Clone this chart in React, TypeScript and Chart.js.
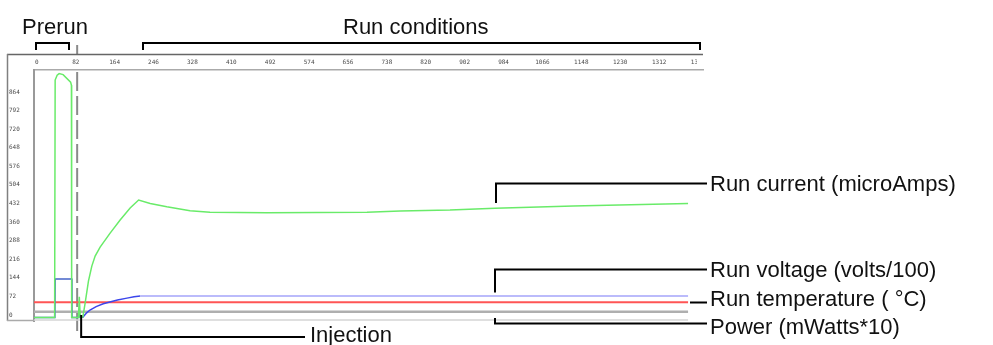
import React, { useEffect, useRef } from 'react';
import { Chart, registerables } from 'chart.js';

Chart.register(...registerables);

// ---------- data ----------
const xTickValues = [0, 82, 164, 246, 328, 410, 492, 574, 656, 738, 820, 902, 984, 1066, 1148, 1230, 1312, 1394];
const yTickValues = [0, 72, 144, 216, 288, 360, 432, 504, 576, 648, 720, 792, 864];

const currentTime = [-6, 37.5, 38.6, 42.8, 47, 55.4, 71.2, 72.9, 73.4, 87.7, 89.5, 91.5, 97, 101.8, 108.8, 115.9, 122.9, 133.4, 154.5, 175.6, 196.7, 214.6, 239, 274, 323, 365, 485, 696, 766, 871, 966, 1131, 1373];
const currentValue = [2, 2, 922, 941, 947, 943, 914, 902, 2, 2, 82, 2, 4, 58, 143, 201, 240, 275, 329, 380, 426, 457, 444, 431, 416, 410, 408, 410, 415, 418, 425, 434, 444];

const voltageTime = [-6, 38, 38.6, 73.6, 74, 88, 89.5, 91, 97, 105, 112, 125, 140, 154, 170, 190, 205, 218, 1373];
const voltageValue = [2, 2, 151, 151, 2, 2, 20, 4, 3, 20, 31, 44, 55, 62, 70, 77, 82, 85, 85];

const temperatureTime = [-6, 1373];
const temperatureValue = [61, 61];

const baselineTime = [-6, 1373];
const baselineValue = [24, 24];

const powerTime = [-6, 1373];
const powerValue = [-8, -8];

const injectionTime = 85;

const topLabels = ['Prerun', 'Run conditions'];
const sideLabels = ['Run current (microAmps)', 'Run voltage (volts/100)', 'Run temperature ( °C)', 'Power (mWatts*10)'];
const injectionLabel = 'Injection';

// ---------- helpers ----------
const toPoints = (xs: number[], ys: number[]) => xs.map((x, i) => ({ x, y: ys[i] }));

const TEXT_FONT = '22px "Liberation Sans", Arial, Helvetica, sans-serif';
const TICK_FONT = { family: '"DejaVu Sans Mono", monospace', size: 6 };

const decorPlugin = {
  id: 'decor',
  beforeDatasetsDraw(chart: any) {
    const ctx = chart.ctx;
    const x = chart.scales.x.getPixelForValue(injectionTime);
    ctx.save();
    ctx.strokeStyle = '#8a8a8a';
    ctx.lineWidth = 2;
    ctx.setLineDash([19, 5]);
    ctx.beginPath();
    ctx.moveTo(x, 72);
    ctx.lineTo(x, 331);
    ctx.stroke();
    ctx.setLineDash([]);
    ctx.beginPath();
    ctx.moveTo(x, 45);
    ctx.lineTo(x, 54);
    ctx.stroke();
    ctx.restore();
  },
  afterDraw(chart: any) {
    const ctx = chart.ctx;
    const area = chart.chartArea;
    ctx.save();
    // the header row is cut at the right edge of the frame
    ctx.fillStyle = '#ffffff';
    ctx.fillRect(697, 55.5, 40, area.top - 57);

    // outer frame
    ctx.strokeStyle = '#666';
    ctx.lineWidth = 1.5;
    ctx.beginPath();
    ctx.moveTo(7, 54.5);
    ctx.lineTo(area.right, 54.5);
    ctx.stroke();
    ctx.strokeStyle = '#808080';
    ctx.beginPath();
    ctx.moveTo(7.5, 54);
    ctx.lineTo(7.5, 321);
    ctx.stroke();
    ctx.strokeStyle = '#aaa';
    ctx.beginPath();
    ctx.moveTo(7, 320.5);
    ctx.lineTo(area.left, 320.5);
    ctx.stroke();

    // brackets
    ctx.strokeStyle = '#000';
    ctx.lineWidth = 2;
    ctx.beginPath();
    ctx.moveTo(36, 50);
    ctx.lineTo(36, 43);
    ctx.lineTo(69, 43);
    ctx.lineTo(69, 50);
    ctx.stroke();
    ctx.beginPath();
    ctx.moveTo(143, 50);
    ctx.lineTo(143, 43);
    ctx.lineTo(700, 43);
    ctx.lineTo(700, 50);
    ctx.stroke();

    // leaders on the right
    ctx.beginPath();
    ctx.moveTo(496, 203);
    ctx.lineTo(496, 183.5);
    ctx.lineTo(707, 183.5);
    ctx.stroke();
    ctx.beginPath();
    ctx.moveTo(495, 292.5);
    ctx.lineTo(495, 269.5);
    ctx.lineTo(707, 269.5);
    ctx.stroke();
    ctx.beginPath();
    ctx.moveTo(690, 302.5);
    ctx.lineTo(707, 302.5);
    ctx.stroke();
    ctx.beginPath();
    ctx.moveTo(495, 318);
    ctx.lineTo(495, 323.5);
    ctx.lineTo(707, 323.5);
    ctx.stroke();

    // injection leader
    const ix = chart.scales.x.getPixelForValue(injectionTime) + 4;
    ctx.beginPath();
    ctx.moveTo(ix, 315);
    ctx.lineTo(ix, 337);
    ctx.lineTo(305, 337);
    ctx.stroke();

    // texts
    ctx.fillStyle = '#111';
    ctx.font = TEXT_FONT;
    ctx.textAlign = 'left';
    ctx.textBaseline = 'alphabetic';
    ctx.fillText(topLabels[0], 22, 34);
    ctx.fillText(topLabels[1], 343, 34);
    ctx.fillText(sideLabels[0], 710, 191);
    ctx.fillText(sideLabels[1], 710, 277);
    ctx.fillText(sideLabels[2], 710, 306);
    ctx.fillText(sideLabels[3], 710, 334);
    ctx.fillText(injectionLabel, 310, 341.5);
    ctx.restore();
  },
};

export default function App() {
  const canvasRef = useRef<HTMLCanvasElement | null>(null);

  useEffect(() => {
    const canvas = canvasRef.current;
    if (!canvas) return;
    const chart = new Chart(canvas, {
      type: 'line',
      data: {
        datasets: [
          {
            label: 'Run current (microAmps)',
            data: toPoints(currentTime, currentValue),
            borderColor: 'rgb(105,235,105)',
            borderWidth: 1.5,
          },
          {
            label: 'Run voltage (volts/100)',
            data: toPoints(voltageTime, voltageValue),
            borderColor: 'rgb(165,165,250)',
            borderWidth: 1.5,
            segment: {
              borderColor: (c: any) =>
                c.p0.parsed.x < 80
                  ? 'rgb(70,100,200)'
                  : c.p1.parsed.y - c.p0.parsed.y > 0.5 || c.p1.parsed.y < c.p0.parsed.y
                  ? 'rgb(60,70,235)'
                  : 'rgb(165,165,250)',
            },
          },
          {
            label: 'Run temperature (°C)',
            data: toPoints(temperatureTime, temperatureValue),
            borderColor: 'rgb(255,85,85)',
            borderWidth: 2,
          },
          {
            label: 'Baseline',
            data: toPoints(baselineTime, baselineValue),
            borderColor: 'rgb(175,175,175)',
            borderWidth: 2.5,
          },
          {
            label: 'Power (mWatts*10)',
            data: toPoints(powerTime, powerValue),
            borderColor: 'rgb(212,212,212)',
            borderWidth: 1.5,
          },
        ],
      },
      options: {
        animation: false,
        responsive: false,
        devicePixelRatio: 1,
        elements: { point: { radius: 0 }, line: { tension: 0 } },
        layout: { padding: { left: 9, top: 54, right: 290, bottom: 24 } },
        plugins: { legend: { display: false }, tooltip: { enabled: false } },
        scales: {
          x: {
            type: 'linear',
            position: 'top',
            min: -6,
            max: 1404.5,
            grid: { display: false, drawTicks: false, tickLength: 0 },
            border: { display: true, color: '#aaa', width: 1.5 },
            ticks: {
              autoSkip: false,
              maxRotation: 0,
              minRotation: 0,
              padding: 3,
              color: '#4a4a4a',
              font: TICK_FONT,
              callback: (v: any) => String(v),
            },
            afterBuildTicks: (s: any) => {
              s.ticks = xTickValues.map((v) => ({ value: v }));
            },
            afterFit: (s: any) => {
              s.height = 15.5;
            },
          },
          y: {
            type: 'linear',
            position: 'left',
            min: -11.6,
            max: 962.8,
            grid: { display: false, drawTicks: false, tickLength: 0 },
            border: { display: true, color: '#999', width: 2 },
            ticks: {
              autoSkip: false,
              crossAlign: 'far',
              labelOffset: -3,
              color: '#4a4a4a',
              font: TICK_FONT,
              callback: (v: any) => String(v),
            },
            afterBuildTicks: (s: any) => {
              s.ticks = yTickValues.map((v) => ({ value: v }));
            },
            afterFit: (s: any) => {
              s.width = 25;
            },
          },
        },
      } as any,
      plugins: [decorPlugin],
    });
    return () => chart.destroy();
  }, []);

  return (
    <div style={{ position: 'absolute', left: 0, top: 0, width: 993, height: 345, background: '#fff' }}>
      <canvas ref={canvasRef} width={993} height={345} style={{ display: 'block', width: 993, height: 345 }} />
    </div>
  );
}
